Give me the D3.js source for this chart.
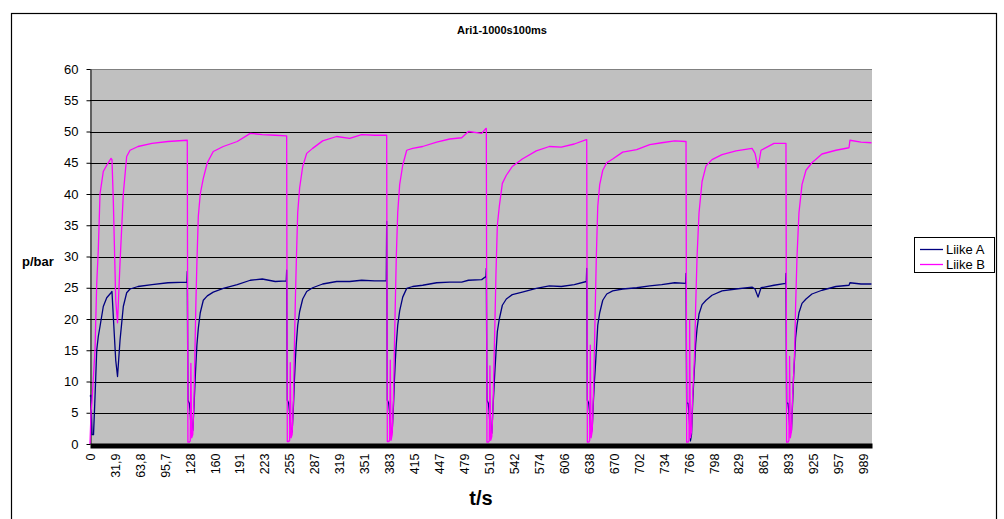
<!DOCTYPE html>
<html>
<head>
<meta charset="utf-8">
<script src="https://cdn.jsdelivr.net/npm/d3@7"></script>
<style>
  body { margin: 0; background: #fff; }
  svg { display: block; font-family: "Liberation Sans", Arial, sans-serif; }
</style>
</head>
<body>
<div id="chart"></div>
<script>
var title = 'Ari1-1000s100ms';
var seriesNames = ['Liike A', 'Liike B'];
var yTicks = [0, 5, 10, 15, 20, 25, 30, 35, 40, 45, 50, 55, 60];
var xTicks = [0, 31.9, 63.8, 95.7, 128, 160, 191, 223, 255, 287, 319, 351, 383, 415, 447, 479,
    510, 542, 574, 606, 638, 670, 702, 734, 766, 798, 829, 861, 893, 925, 957, 989];

// time in seconds, one line per pressure cycle
var seconds = [
    0, 1.3, 2.6, 4.5, 6.4, 8.6, 10.6, 12.8, 17.0, 21.4, 26.9, 28.1, 29.8, 32.9, 35.2, 38.4, 42.6, 46.9, 51.2, 61.4, 79.3, 99.7,
    123.9, 124.4, 125.2, 127.0, 128.2, 129.0, 130.0, 131.4, 133.0, 134.2, 135.5, 136.7, 138.5, 141.0, 144.9, 150.0, 157.6, 170.4, 188.3, 205.0, 220.3, 236.9,
    251.0, 251.5, 252.3, 254.1, 255.3, 256.1, 257.1, 258.5, 260.1, 261.3, 262.6, 263.8, 265.6, 268.1, 272.0, 277.1, 284.7, 297.5, 315.4, 332.1, 347.4, 364.0,
    378.9, 379.4, 380.2, 382.0, 383.2, 384.0, 385.0, 386.4, 388.0, 389.2, 390.5, 391.7, 393.5, 396.0, 399.9, 405.0, 412.6, 425.4, 443.3, 460.0, 475.3, 483.9, 500.9,
    506.3, 506.8, 507.6, 509.4, 510.6, 511.4, 512.4, 513.8, 515.4, 516.6, 517.9, 519.1, 520.9, 523.4, 527.3, 532.4, 540.0, 552.8, 570.7, 587.4, 602.7, 619.3,
    634.7, 635.2, 636.0, 637.8, 639.0, 639.8, 640.8, 642.2, 643.8, 645.0, 646.3, 647.5, 649.3, 651.8, 655.7, 660.8, 668.4, 681.2, 699.1, 715.8, 731.1, 747.7,
    761.7, 762.2, 763.0, 764.8, 766.0, 766.8, 767.8, 769.2, 770.8, 772.0, 773.3, 774.5, 776.3, 778.8, 782.7, 787.8, 795.4, 808.2, 826.1, 846.6, 850.4, 854.3, 858.1, 874.7,
    889.5, 890.0, 890.8, 892.6, 893.8, 894.6, 895.6, 897.0, 898.6, 899.8, 901.1, 902.3, 904.1, 906.6, 910.5, 915.6, 923.2, 936.0, 953.9, 970.6, 971.8, 985.9, 999.3
];

var liikeA = [
    7.6, 7.8, 1.5, 1.5, 7.5, 15, 17.2, 18.8, 22, 23.4, 24.2, 24.4, 20.4, 13.4, 10.8, 16.6, 22, 24.2, 24.8, 25.2, 25.5, 25.8,
    25.9, 27.6, 7, 6.5, 5, 3, 1.7, 2.2, 6, 9.7, 13, 15.8, 18.5, 21, 23, 23.7, 24.3, 24.9, 25.5, 26.2, 26.4, 26,
    26.1, 27.8, 7, 6.5, 5, 3, 1.6, 2, 6, 10, 13.5, 16, 19, 21.2, 23.2, 24.4, 25, 25.6, 26, 26, 26.2, 26.1,
    26.1, 35.6, 7, 6.5, 5, 3, 1.5, 2, 6, 10, 13.5, 16, 19, 21.3, 23.5, 24.9, 25.2, 25.4, 25.8, 25.9, 25.9, 26.2, 26.3,
    26.8, 28.1, 7, 6.5, 5, 3, 1.2, 1.8, 6, 9, 12, 14.5, 18, 20, 22.2, 23.2, 23.9, 24.3, 24.9, 25.3, 25.2, 25.5,
    26, 28.1, 7, 6.5, 5, 3, 1.7, 2.5, 7, 10, 12.5, 15, 19, 21, 23, 24, 24.5, 24.8, 25, 25.3, 25.5, 25.8,
    25.7, 27.3, 6.6, 6.5, 5, 3, 0.5, 1.5, 7, 10, 13, 16, 18.5, 20.8, 22.3, 23, 23.8, 24.5, 24.8, 25.1, 24.8, 23.5, 25.0, 25.4,
    25.7, 27.3, 6.6, 6.5, 5, 3, 1.7, 2.2, 7, 11, 14, 17, 19, 21, 22.5, 23.2, 24, 24.6, 25.2, 25.4, 25.8, 25.6, 25.6
];

var liikeB = [
    0, 5, 7, 11, 15, 25.7, 31, 40, 43.6, 44.6, 45.7, 45.5, 39, 23, 19.4, 29, 40, 46, 47, 47.6, 48.1, 48.4,
    48.6, 48.6, 0.3, 0.3, 0.5, 12.9, 1, 1.5, 7, 15, 23, 29, 36.4, 40, 42.5, 45, 46.8, 47.6, 48.4, 49.7, 49.5, 49.4,
    49.3, 49.3, 0.4, 0.4, 0.6, 13, 1, 1.5, 7, 15, 23, 29, 37, 41, 44.4, 46.5, 47.3, 48.5, 49.2, 48.9, 49.5, 49.4,
    49.4, 49.4, 0.4, 0.4, 0.6, 13.4, 0.6, 1.5, 7, 15, 23, 30, 37, 41.5, 44.6, 47, 47.3, 47.6, 48.3, 48.8, 49, 50, 49.7,
    50.5, 50.5, 0.3, 0.3, 0.5, 12.5, 0.6, 1.2, 6, 13, 20, 27, 35, 38, 41.7, 43, 44.4, 45.6, 46.9, 47.6, 47.5, 48,
    48.7, 48.7, 0.3, 0.3, 0.6, 15.8, 1, 2, 8, 15, 23, 30, 38, 41.5, 43.8, 45, 45.6, 46.7, 47.1, 47.9, 48.2, 48.5,
    48.4, 48.4, 0.3, 0.3, 0.6, 19.8, 1, 2, 8, 11, 15, 22, 30, 37, 42, 44.5, 45.5, 46.3, 46.9, 47.3, 46.5, 44.2, 47.0, 48.1,
    48.1, 48.1, 0.3, 0.3, 0.6, 14, 1, 2, 8, 11, 15, 22, 30, 37, 41.5, 43.8, 45, 46.4, 47, 47.4, 48.6, 48.3, 48.2
];

var colors = ['#000080', '#ff00ff'];

var svg = d3.select('#chart').append('svg')
        .attr('width', 1004)
        .attr('height', 519);

var plot = {left: 90, right: 872, top: 69, bottom: 444};

var x = d3.scaleLinear().domain([0, 1000]).range([plot.left, plot.right]),
    y = d3.scaleLinear().domain([0, 60]).range([plot.bottom, plot.top]);

// chart frame
svg.append('rect')
    .attr('x', 11.5).attr('y', 13.5)
    .attr('width', 985).attr('height', 520)
    .attr('fill', '#fff')
    .attr('stroke', '#000')
    .attr('stroke-width', 1.2);

svg.append('text')
    .attr('x', 502).attr('y', 34)
    .attr('text-anchor', 'middle')
    .style('font-size', '11px').style('font-weight', 'bold')
    .text(title);

// plot area
svg.append('rect')
    .attr('x', plot.left).attr('y', plot.top)
    .attr('width', plot.right - plot.left).attr('height', plot.bottom - plot.top)
    .attr('fill', '#c0c0c0');

svg.append('g')
    .selectAll('line')
    .data(yTicks.filter(function(d) { return d > 0; }))
    .enter().append('line')
    .attr('x1', plot.left).attr('x2', plot.right)
    .attr('y1', function(d) { return Math.round(y(d)) + 0.5; })
    .attr('y2', function(d) { return Math.round(y(d)) + 0.5; })
    .attr('stroke', function(d) { return d === 60 ? '#808080' : '#000'; })
    .attr('stroke-width', 1);

// y axis
var yAxis = svg.append('g')
    .attr('transform', 'translate(' + (plot.left + 0.5) + ',0)')
    .call(d3.axisLeft(y).tickValues(yTicks).tickSize(4).tickSizeOuter(0));
yAxis.select('.domain').attr('stroke', '#000');
yAxis.selectAll('.tick line').attr('stroke', '#000');
yAxis.selectAll('text')
    .attr('x', -12)
    .style('font-size', '13px')
    .style('font-family', '"Liberation Sans", Arial, sans-serif')
    .attr('fill', '#000');

svg.append('text')
    .attr('x', 22).attr('y', 266)
    .style('font-size', '13px').style('font-weight', 'bold')
    .text('p/bar');

// lines
var line = d3.line()
    .x(function(d) { return x(d.t); })
    .y(function(d) { return y(d.v); });

[liikeA, liikeB].forEach(function(vals, k) {
    var pts = seconds.map(function(t, i) { return {t: t, v: vals[i]}; });
    svg.append('path')
        .datum(pts)
        .attr('fill', 'none')
        .attr('stroke', colors[k])
        .attr('stroke-width', 1.3)
        .attr('stroke-linejoin', 'round')
        .attr('d', line);
});

// x axis: thick black bar and rotated labels
var xAxis = svg.append('g')
    .attr('transform', 'translate(0,' + 445.5 + ')')
    .call(d3.axisBottom(x).tickValues(xTicks).tickSize(0).tickSizeOuter(0)
        .tickFormat(function(d) { return String(d).replace('.', ','); }));
xAxis.select('.domain').attr('stroke', '#000').attr('stroke-width', 5);
xAxis.selectAll('text')
    .attr('transform', 'rotate(-90)')
    .attr('x', -8)
    .attr('y', 0)
    .attr('dy', '0.35em')
    .style('text-anchor', 'end')
    .style('font-size', '12.5px')
    .style('font-family', '"Liberation Sans", Arial, sans-serif')
    .attr('fill', '#000');

svg.append('text')
    .attr('x', 481).attr('y', 505)
    .attr('text-anchor', 'middle')
    .style('font-size', '20px').style('font-weight', 'bold')
    .text('t/s');

// legend
var legend = svg.append('g');
legend.append('rect')
    .attr('x', 914.5).attr('y', 237.5)
    .attr('width', 80).attr('height', 35)
    .attr('fill', '#fff')
    .attr('stroke', '#000');

seriesNames.forEach(function(name, k) {
    var ly = 249.5 + k * 15;
    legend.append('line')
        .attr('x1', 920).attr('x2', 943)
        .attr('y1', ly).attr('y2', ly)
        .attr('stroke', colors[k]).attr('stroke-width', 1.3);
    legend.append('text')
        .attr('x', 946).attr('y', ly)
        .attr('dy', '0.35em')
        .style('font-size', '13px')
        .text(name);
});
</script>
</body>
</html>
